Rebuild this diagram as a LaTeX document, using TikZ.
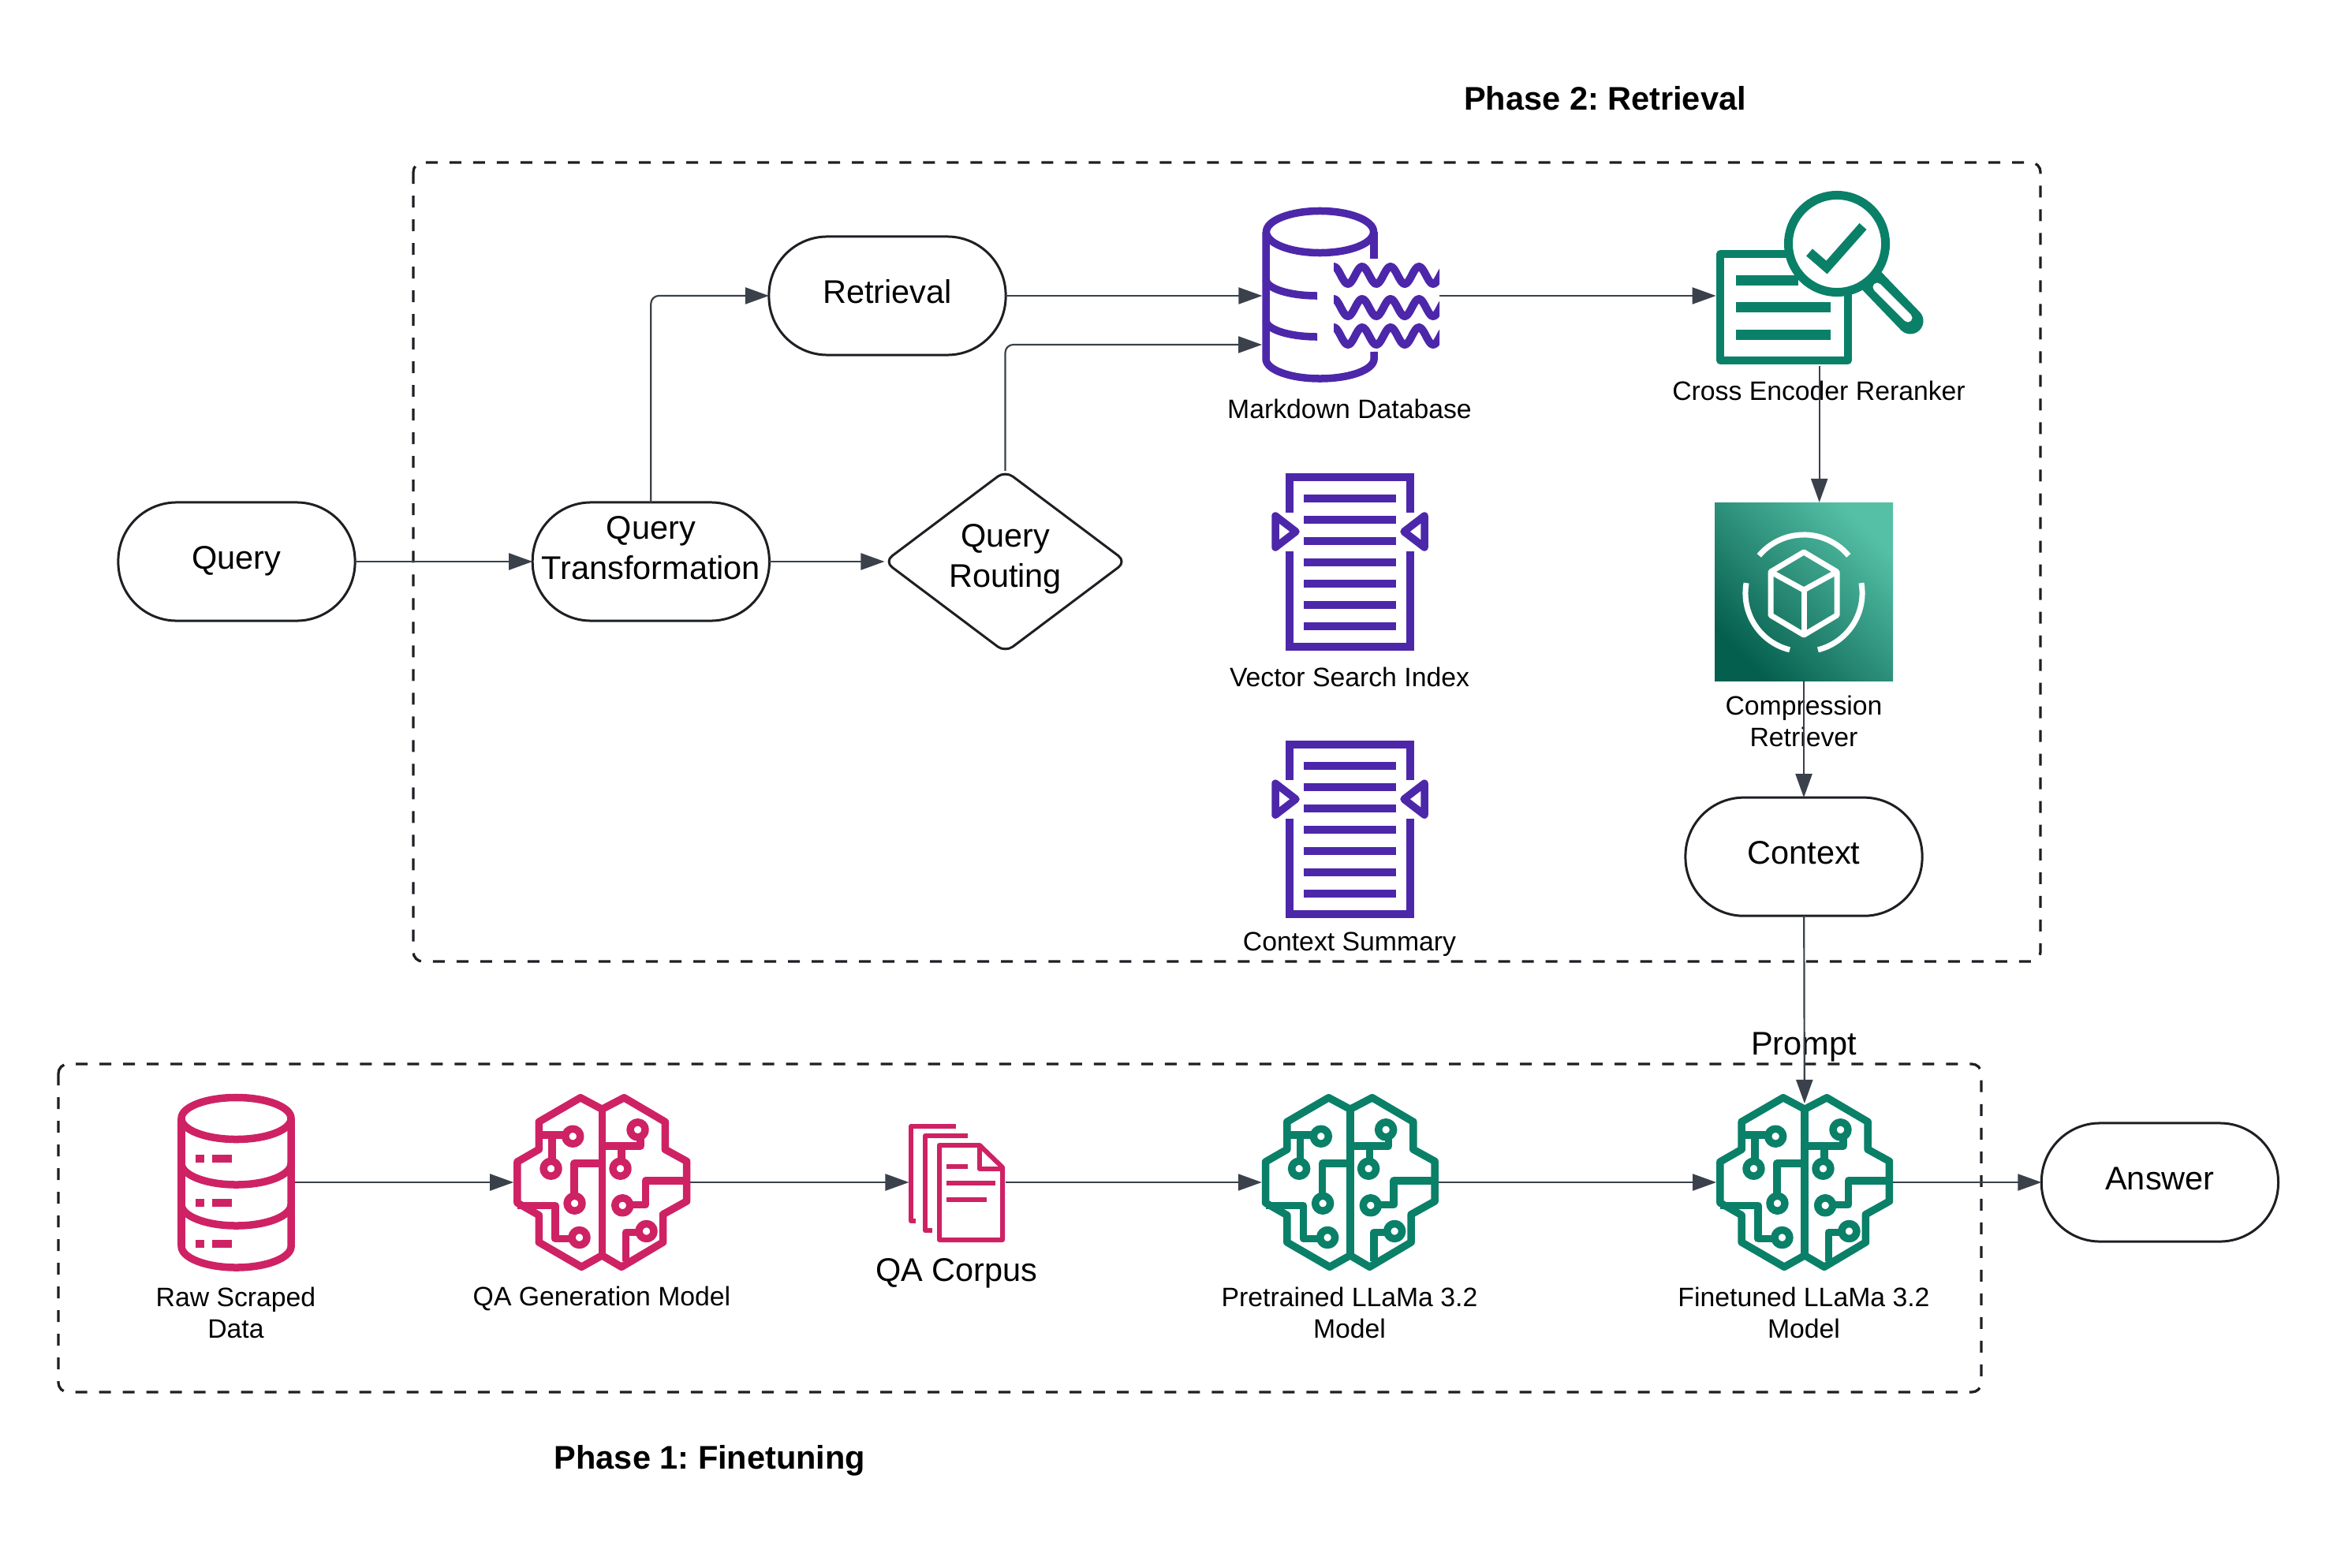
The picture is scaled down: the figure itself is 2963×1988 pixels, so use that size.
\documentclass[tikz,border=0pt]{standalone}
\usepackage{fontspec}
\setmainfont{Liberation Sans}
\usetikzlibrary{arrows.meta, positioning, shapes.geometric}
\definecolor{cpurple}{HTML}{4D27AA}
\definecolor{cteal}{HTML}{0A8068}
\definecolor{cpink}{HTML}{CE2264}
\definecolor{cslate}{HTML}{3A414A}
\definecolor{cink}{HTML}{1D1F23}
\definecolor{cdeep}{HTML}{055F4E}
\definecolor{clight}{HTML}{55C0A6}
\frenchspacing
\tikzset{
  pill/.style={draw=cink, line width=.03cm, rounded corners=.74cm, align=center, inner sep=0pt, outer sep=0pt, minimum width=3cm, minimum height=1.5cm, text height=.3cm, text depth=.12cm, font=\fontsize{11.8}{14.5}\selectfont},
  route/.style={draw=cink, line width=.03cm, shape=diamond, aspect=1.32, rounded corners=.12cm, align=center, inner sep=0pt, outer sep=0pt, minimum width=3.06cm, minimum height=2.3cm, font=\fontsize{11.8}{14.5}\selectfont},
  icon/.style={inner sep=0pt, outer sep=0pt, minimum width=#1},
  arrow/.style={-{Triangle[length=.3cm, width=.21cm]}, draw=cslate, line width=.022cm},
  frame/.style={draw=cink, line width=.033cm, dash pattern=on .15cm off .15cm, rounded corners=.12cm},
  title/.style={font=\fontsize{11.8}{14.5}\selectfont\bfseries},
  note/.style={align=center, inner sep=0pt, font=\fontsize{9.6}{11.4}\selectfont},
  bignote/.style={align=center, inner sep=0pt, font=\fontsize{11.8}{14.5}\selectfont},
  stroke/.style={draw=#1, line width=.095cm, line join=round},
  pics/brain/.style={code={
    \draw[stroke=#1] (0,-92.7) -- (-27.3,-107.3) -- (-80,-76.7) -- (-80,-41.7) -- (-107.3,-26) -- (-107.3,26) -- (-80,41.7) -- (-80,76) -- (-26,107.3) -- (0,92.7) -- (24.7,107.3) -- (77.3,76) -- (77.3,40.7) -- (107.3,24) -- (107.3,-26.7) -- (80,-41.7) -- (80,-76.7) -- (28,-107.3) -- cycle;
    \draw[stroke=#1] (0,-92.7) -- (0,92.7);
    % left half
    \draw[stroke=#1] (-80,-60) -- (-37,-60);
    \draw[stroke=#1] (-63.3,-60) -- (-63.3,-17.3);
    \draw[stroke=#1] (0,-24) -- (-35.3,-24) -- (-35.3,26.7);
    \draw[stroke=#1] (-107.3,29.3) -- (-59.3,29.3) -- (-59.3,71.7) -- (-28.7,71.7);
    % right half
    \draw[stroke=#1] (0,-46) -- (48.7,-46) -- (48.7,-63);
    \draw[stroke=#1] (24.7,-46) -- (24.7,-17.3);
    \draw[stroke=#1] (107.3,-2) -- (55.3,-2) -- (55.3,28.3) -- (26,28.3);
    \draw[stroke=#1] (30.3,100) -- (30.3,63.3) -- (55.3,63.3);
    \foreach \cx/\cy in {-37/-58.3, -64.7/-17.3, -34.7/26.7, -28.7/70, 45.3/-66.7, 23.3/-17.3, 26/29.3, 56.3/62}
      \draw[stroke=#1, fill=white] (\cx,\cy) circle[radius=.095cm];
  }},
  pics/index/.style={code={
    \draw[stroke=cpurple, line join=miter] (-76.5,-62.5) -- (-76.5,-107.5) -- (76.5,-107.5) -- (76.5,-62.5);
    \draw[stroke=cpurple, line join=miter] (-76.5,-13.5) -- (-76.5,107.5) -- (76.5,107.5) -- (76.5,-13.5);
    \foreach \ly in {-81,-54,-27,0,27,54,81}
      \fill[cpurple] (-58.5,\ly-5) rectangle (58.5,\ly+5);
    \draw[stroke=cpurple] (-94.5,-58.5) -- (-68.5,-38.5) -- (-94.5,-18.5) -- cycle;
    \draw[stroke=cpurple] (94.5,-58.5) -- (68.5,-38.5) -- (94.5,-18.5) -- cycle;
  }},
}
\begin{document}
\begin{tikzpicture}[x=.01cm, y=-.01cm]
  \useasboundingbox (0,0) rectangle (2963,1988);
  % dashed phase frames
  \node[title] (phasetwo) at (2035,125) {Phase 2: Retrieval};
  \node[title] (phaseone) at (900,1852) {Phase 1: Finetuning};
  \draw[frame] (524,206) rectangle (2587,1219);
  \draw[frame] (74,1349) rectangle (2512,1765);

  % top: retrieval flow
  \node[pill] (query) at (300,712) {Query};
  \node[pill, right=2.25cm of query, text height=, text depth=.34cm] (trans) {Query\\Transformation};
  \node[route, right=1.46cm of trans, text depth=.15cm] (qroute) {Query\\Routing};
  \node[pill] (retr) at (1125,375) {Retrieval};
  \node[icon=2.25cm, minimum height=2.22cm, right=3.25cm of retr] (mddb) {};
  \node[icon=2.62cm, minimum height=1.78cm, right=3.5cm of mddb] (rank) {};
  \node[icon=2.26cm, minimum height=2.26cm] (comp) at (2287,750) {};
  \node[pill, below=1.48cm of comp] (ctx) {Context};
  \node[icon=1.9cm, minimum height=2.25cm] (vec) at (1711.5,712.5) {};
  \node[icon=1.9cm, minimum height=2.25cm, below=1.14cm of vec] (summ) {};
  \coordinate (mddbin) at (1600,437);

  % bottom: finetuning flow
  \node[icon=1.49cm, minimum height=2.25cm] (raw) at (299.5,1499) {};
  \node[icon=2.24cm, minimum height=2.25cm, right=2.77cm of raw] (qagen) {};
  \node[icon=1.22cm, minimum height=1.5cm, right=2.77cm of qagen] (corpus) {};
  \node[icon=2.24cm, minimum height=2.25cm, right=3.25cm of corpus] (pre) {};
  \node[icon=2.24cm, minimum height=2cm, right=3.52cm of pre] (fine) {};
  \node[pill, right=1.88cm of fine] (answer) {Answer};

  % markdown database icon
  \draw[stroke=cpurple] (1673.5,294) ellipse[x radius=.68cm, y radius=.265cm];
  \draw[stroke=cpurple] (1605,294) -- (1605,455) arc[start angle=180, end angle=360, x radius=.685cm, y radius=.25cm] -- (1742,446);
  \draw[stroke=cpurple] (1742,294) -- (1742,328);
  \draw[stroke=cpurple] (1605,354) arc[start angle=180, end angle=270, x radius=.65cm, y radius=.21cm];
  \draw[stroke=cpurple] (1605,406) arc[start angle=180, end angle=270, x radius=.65cm, y radius=.21cm];
  \begin{scope}
    \clip (1691,320) rectangle (1825,450);
    \foreach \wy in {349,390,426}
      \draw[stroke=cpurple, line width=.1cm] plot[domain=-4:138, samples=75, smooth] ({1691+\x}, {\wy-11*cos(\x*10)});
  \end{scope}

  % reranker icon
  \draw[stroke=cteal] (2181,322) rectangle (2343,457);
  \foreach \ry/\rx in {355/2280, 389/2321, 424/2321}
    \fill[cteal] (2201,\ry-6.5) rectangle (\rx,\ry+6.5);
  \draw[cteal, line width=.33cm, line cap=round] (2374,357) -- (2422,407);
  \draw[white, line width=.11cm, line cap=round] (2380,364) -- (2419,403);
  \draw[stroke=cteal, line width=.11cm, fill=white] (2329,309) circle[radius=.615cm];
  \draw[stroke=cteal, line width=.12cm, line join=miter] (2294,320) -- (2316,339) -- (2362,287);

  % compression retriever icon
  \fill[shading=axis, bottom color=cdeep, top color=clight, shading angle=-45] (2174,637) rectangle (2400,863);
  \begin{scope}[white, line width=.07cm, line join=round]
    \draw (2287,700) -- (2329,725) -- (2329,780) -- (2287,805) -- (2245,780) -- (2245,725) -- cycle;
    \draw (2245,725) -- (2287,748) -- (2329,725);
    \draw (2287,748) -- (2287,805);
    \draw ([shift={(40:.74cm)}]2287,752) arc[start angle=40, end angle=140, radius=.74cm];
    \draw ([shift={(170:.74cm)}]2287,752) arc[start angle=170, end angle=256, radius=.74cm];
    \draw ([shift={(284:.74cm)}]2287,752) arc[start angle=284, end angle=370, radius=.74cm];
  \end{scope}

  % index icons
  \pic at (vec) {index};
  \pic at (summ) {index};

  % raw data icon
  \draw[stroke=cpink] (299.5,1418) ellipse[x radius=.695cm, y radius=.265cm];
  \draw[stroke=cpink] (230,1418) -- (230,1580) arc[start angle=180, end angle=360, x radius=.695cm, y radius=.27cm] -- (369,1418);
  \draw[stroke=cpink] (230,1475) arc[start angle=180, end angle=360, x radius=.695cm, y radius=.27cm];
  \draw[stroke=cpink] (230,1527) arc[start angle=180, end angle=360, x radius=.695cm, y radius=.27cm];
  \foreach \by in {1469,1525,1577} {
    \fill[cpink] (248,\by-5) rectangle (259,\by+5);
    \fill[cpink] (269,\by-5) rectangle (294,\by+5);
  }

  % corpus icon
  \draw[stroke=cpink, line width=.06cm] (1212,1428) -- (1155,1428) -- (1155,1548) -- (1161,1548);
  \draw[stroke=cpink, line width=.06cm] (1227,1440) -- (1173,1440) -- (1173,1560) -- (1182,1560);
  \draw[stroke=cpink, line width=.06cm] (1191,1452) -- (1242,1452) -- (1271,1480) -- (1271,1572) -- (1191,1572) -- cycle;
  \draw[stroke=cpink, line width=.06cm] (1242,1452) -- (1242,1482) -- (1271,1482);
  \foreach \cy/\cx in {1479/1227, 1500/1262, 1521/1251}
    \fill[cpink] (1200,\cy-3) rectangle (\cx,\cy+3);

  % brain icons
  \pic at (qagen) {brain=cpink};
  \pic at (pre) {brain=cteal};
  \pic at (fine) {brain=cteal};

  % labels
  \node[note] (mddbl) at (1711,518) {Markdown Database};
  \node[note] (rankl) at (2306,495) {Cross Encoder Reranker};
  \node[note] (vecl) at (1711,858) {Vector Search Index};
  \node[note] (summl) at (1711,1197) {Context Summary};
  \node[note] (compl) at (2287,914) {Compression\\Retriever};
  \node[bignote] (prompt) at (2287,1328) {Prompt};
  \node[note] (rawl) at (299,1664) {Raw Scraped\\Data};
  \node[note] (qagenl) at (763,1646) {QA Generation Model};
  \node[bignote] (corpusl) at (1213,1614) {QA Corpus};
  \node[note] (prel) at (1711,1664) {Pretrained LLaMa 3.2\\Model};
  \node[note] (finel) at (2287,1664) {Finetuned LLaMa 3.2\\Model};

  % connectors
  \draw[arrow] (query) -- (trans);
  \draw[arrow] (trans) -- (qroute);
  \draw[arrow, rounded corners=.1cm] (trans.north) |- (retr.west);
  \draw[arrow, rounded corners=.1cm] (qroute.north) |- (mddbin);
  \draw[arrow] (retr) -- (mddb);
  \draw[arrow] (mddb) -- (rank);
  \draw[arrow] (rank.south) -- (rank.south |- comp.north);
  \draw[arrow] (comp) -- (ctx);
  \draw[arrow] (ctx) -- (fine);
  \draw[arrow] (raw) -- (qagen);
  \draw[arrow] (qagen) -- (corpus);
  \draw[arrow] (corpus) -- (pre);
  \draw[arrow] (pre) -- (fine);
  \draw[arrow] (fine) -- (answer);
\end{tikzpicture}
\end{document}
